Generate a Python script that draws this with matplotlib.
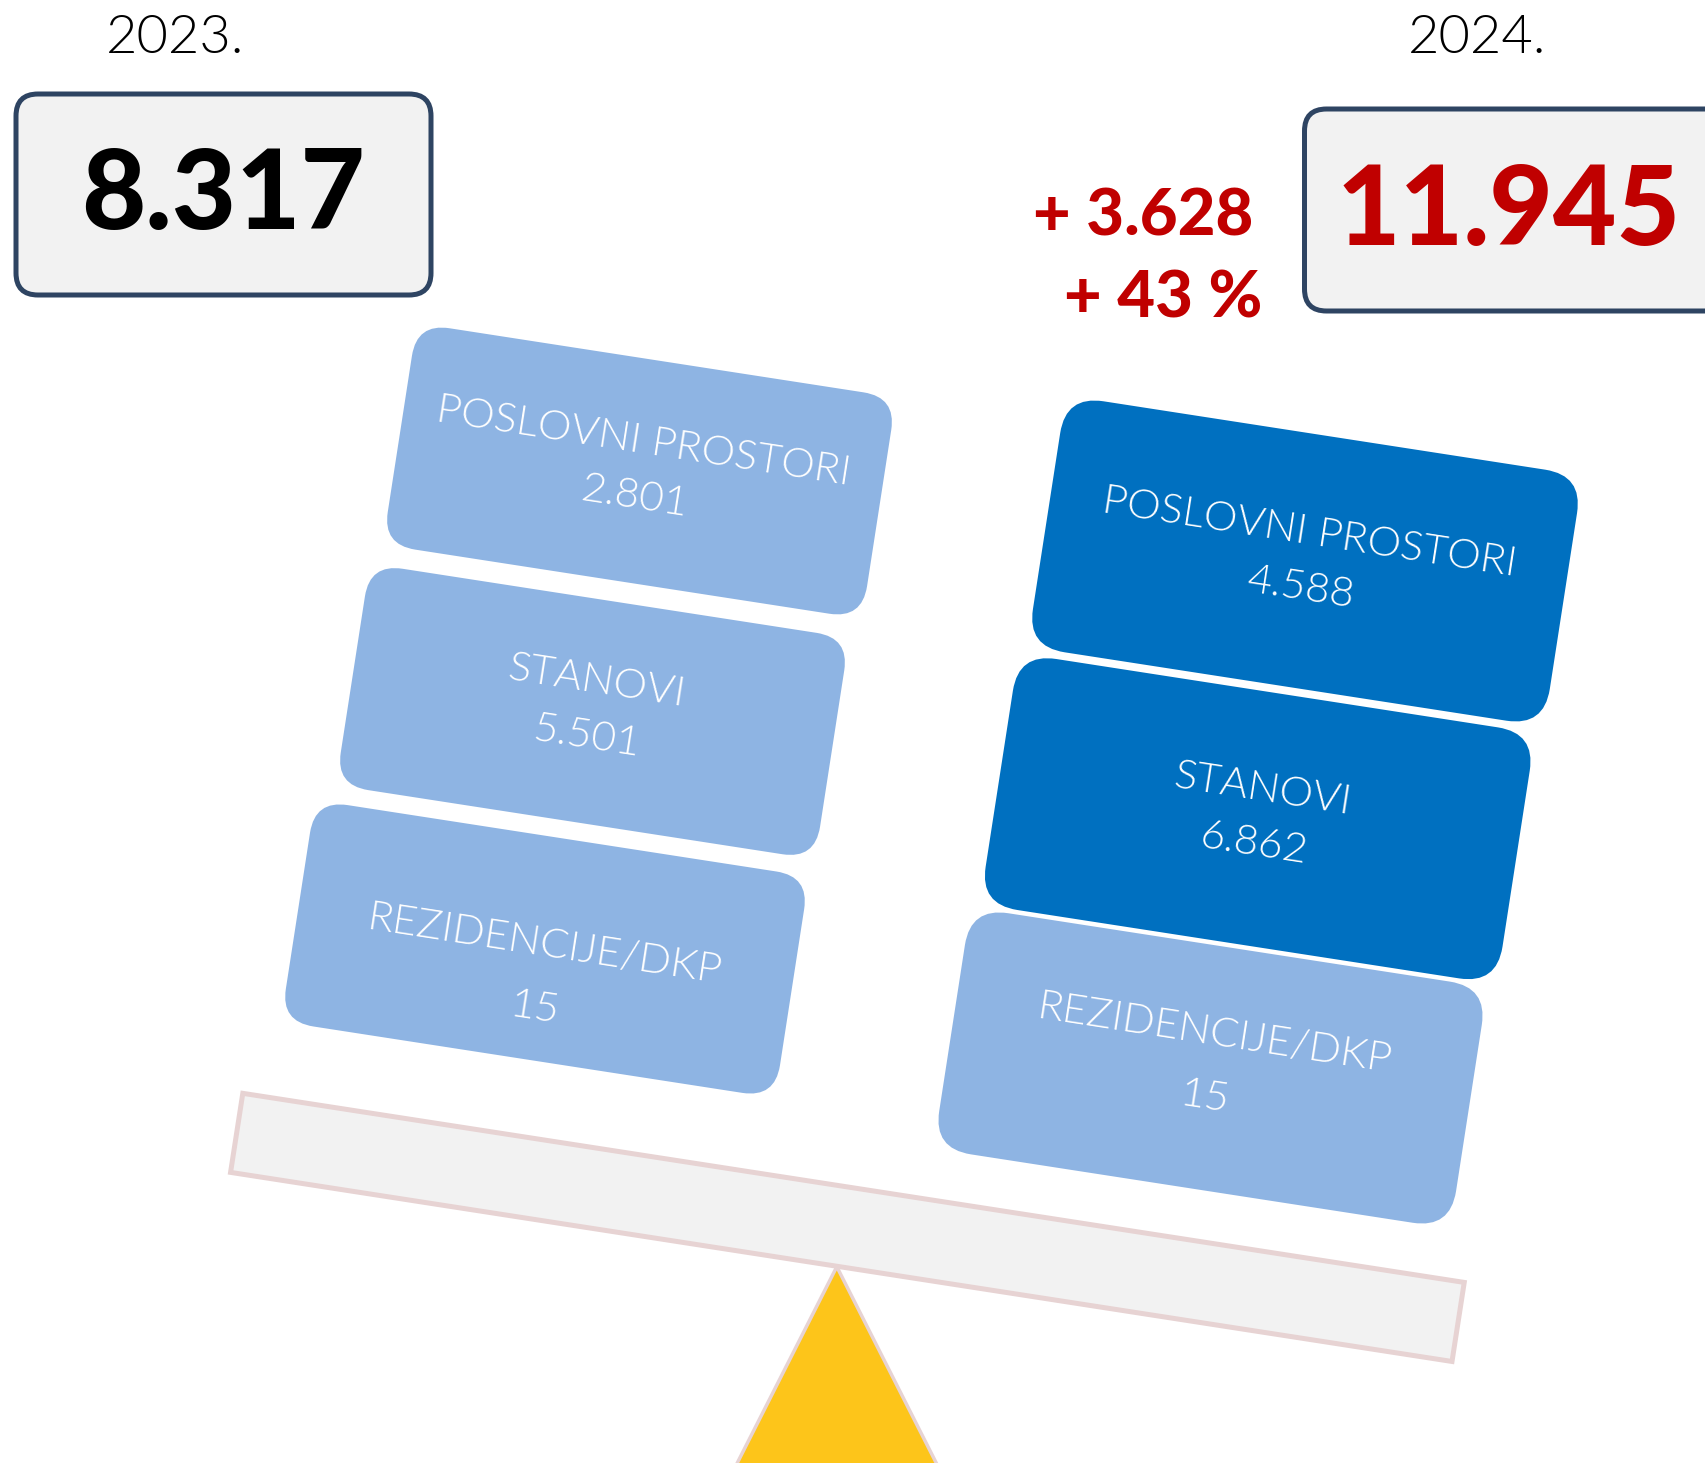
import math

import matplotlib

matplotlib.use("Agg")
import matplotlib.pyplot as plt
from matplotlib.patches import FancyBboxPatch, Polygon, Rectangle
from matplotlib.transforms import Affine2D

# data
CATEGORIES = ["POSLOVNI PROSTORI", "STANOVI", "REZIDENCIJE/DKP"]
VALUES_2023 = [2801, 5501, 15]
VALUES_2024 = [4588, 6862, 15]
YEARS = ["2023.", "2024."]
TOTALS = [8317, 11945]

# layout, in pixels of the 1706x1463 canvas (y grows downwards)
W_PX, H_PX = 1706, 1463
TILT = 8.8  # degrees the scale is tipped to the right
LEFT_CENTERS = [(639.5, 471), (592.5, 711.5), (545, 949)]
LEFT_SIZES = [(485, 224), (485, 224), (500, 224)]
LEFT_TEXT = [(639, 469), (591.5, 709), (539.5, 977)]
RIGHT_CENTERS = [(1305, 561), (1257.7, 818.7), (1210.5, 1068)]
RIGHT_SIZES = [(523, 254), (523, 254), (523, 244)]
RIGHT_TEXT = [(1305, 560), (1257.7, 816.5), (1210, 1066)]

LIGHT = "#8EB4E3"
DARK = "#0070C0"
RED = "#C00000"
NAVY = "#2E4462"
GREY = "#F2F2F2"
PINK = "#E7D3D3"
YELLOW = "#FDC51A"

FONT = "Lato"


def fmt(n):
    return f"{n:,}".replace(",", ".")


def tilted(ax, cx, cy):
    return Affine2D().rotate_deg_around(cx, cy, TILT) + ax.transData


fig = plt.figure(figsize=(W_PX / 100, H_PX / 100), dpi=100)
ax = fig.add_axes([0, 0, 1, 1])
ax.set_xlim(0, W_PX)
ax.set_ylim(H_PX, 0)
ax.axis("off")

# fulcrum and beam
ax.add_patch(Polygon([(836.8, 1266.7), (718.5, 1500), (955, 1500)], closed=True,
                     facecolor=YELLOW, edgecolor=PINK, lw=2.5, zorder=1))
bx, by, bw, bh = 847.4, 1227.4, 1236, 80
ax.add_patch(Rectangle((bx - bw / 2, by - bh / 2), bw, bh, facecolor=GREY,
                       edgecolor=PINK, lw=3.6, transform=tilted(ax, bx, by), zorder=2))

# stacked blocks, one column per year
nx, ny = -math.sin(math.radians(TILT)), math.cos(math.radians(TILT))
columns = [(LEFT_CENTERS, LEFT_SIZES, LEFT_TEXT, VALUES_2023, 33, False),
           (RIGHT_CENTERS, RIGHT_SIZES, RIGHT_TEXT, VALUES_2024, 38, True)]
for centers, sizes, texts, vals, r, highlight in columns:
    for i, cat in enumerate(CATEGORIES):
        cx, cy = centers[i]
        w, h = sizes[i]
        color = DARK if highlight and VALUES_2024[i] != VALUES_2023[i] else LIGHT
        ax.add_patch(FancyBboxPatch((cx - w / 2, cy - h / 2), w, h,
                                    boxstyle=f"round,pad=0,rounding_size={r}",
                                    facecolor=color, edgecolor="none",
                                    transform=tilted(ax, cx, cy), zorder=3))
        tx, ty = texts[i]
        gap = 32 if cat.startswith("REZ") else 28
        for label, sign in ((cat, -1), (fmt(vals[i]), 1)):
            ax.text(tx + sign * nx * gap, ty + sign * ny * gap, label, color="white",
                    fontsize=30.5, family=FONT, fontweight=300, rotation=-TILT,
                    rotation_mode="anchor", ha="center", va="center", zorder=4)

# year headers and totals
ax.text(175, 38.5, YEARS[0], fontsize=39, family=FONT, fontweight=300,
        ha="center", va="center", color="black")
ax.text(1477, 38.5, YEARS[1], fontsize=39, family=FONT, fontweight=300,
        ha="center", va="center", color="black")

ax.add_patch(FancyBboxPatch((16, 94), 415, 201, boxstyle="round,pad=0,rounding_size=22",
                            facecolor=GREY, edgecolor=NAVY, lw=3.6, zorder=2))
ax.add_patch(FancyBboxPatch((1304.5, 109), 440, 202, boxstyle="round,pad=0,rounding_size=22",
                            facecolor=GREY, edgecolor=NAVY, lw=3.6, zorder=2))
ax.text(223.5, 188, fmt(TOTALS[0]), fontsize=80, family=FONT, fontweight="black",
        ha="center", va="center_baseline", color="black", zorder=3)
ax.text(1508.5, 203, fmt(TOTALS[1]), fontsize=79, family=FONT, fontweight="black",
        ha="center", va="center_baseline", color=RED, zorder=3)

diff = TOTALS[1] - TOTALS[0]
pct = int(diff / TOTALS[0] * 100)
ax.text(1253, 211.5, f"+ {fmt(diff)}", fontsize=47, family=FONT, fontweight="black",
        ha="right", va="center_baseline", color=RED)
ax.text(1262, 294, f"+ {pct} %", fontsize=47, family=FONT, fontweight="black",
        ha="right", va="center_baseline", color=RED)

fig.savefig("out.png", dpi=100)
